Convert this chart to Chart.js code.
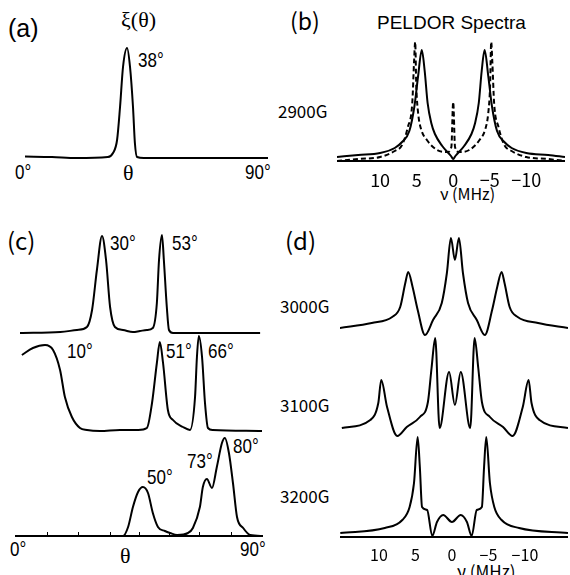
<!DOCTYPE html>
<html>
<head>
<meta charset="utf-8">
<script src="https://cdn.jsdelivr.net/npm/chart.js@4.4.1/dist/chart.umd.min.js"></script>
<style>
  html, body { margin: 0; padding: 0; background: #fff; }
  #fig { position: relative; width: 570px; height: 575px; overflow: hidden; background: #fff; }
  #fig canvas { position: absolute; }
  .t { position: absolute; line-height: 1; white-space: nowrap; color: #000;
       font-family: "Liberation Sans", Arial, sans-serif; }
  .g { font-family: "Noto Sans CJK JP", sans-serif; }
  .s { font-family: "Liberation Serif", "Times New Roman", serif; }
  .deg { font-size: 17px; transform: scaleY(1.15); transform-origin: 0 100%; }
</style>
</head>
<body>
<div id="fig">
  <!-- panel a -->
  <div class="t" style="left:8px;top:16px;font-size:25px;">(a)</div>
  <div class="t s" style="left:121px;top:9px;font-size:22px;">ξ(θ)</div>
  <div class="t deg" style="left:138px;top:53px;">38°</div>
  <div class="t deg" style="left:15px;top:165px;">0°</div>
  <div class="t s" style="left:123px;top:162px;font-size:22px;">θ</div>
  <div class="t deg" style="left:245px;top:165px;">90°</div>

  <!-- panel b -->
  <div class="t g" style="left:290px;top:9px;font-size:23px;">(b)</div>
  <div class="t" style="left:377px;top:13px;font-size:19px;">PELDOR Spectra</div>
  <div class="t g" style="left:278px;top:102px;font-size:17px;">2900G</div>
  <div class="t g" style="left:440px;top:185px;font-size:16px;">ν (MHz)</div>

  <!-- panel c -->
  <div class="t g" style="left:7px;top:228px;font-size:24px;">(c)</div>
  <div class="t deg" style="left:110px;top:236px;">30°</div>
  <div class="t deg" style="left:172px;top:236px;">53°</div>
  <div class="t deg" style="left:67px;top:344px;">10°</div>
  <div class="t deg" style="left:166px;top:344px;">51°</div>
  <div class="t deg" style="left:208px;top:344px;">66°</div>
  <div class="t deg" style="left:147px;top:470px;">50°</div>
  <div class="t deg" style="left:187px;top:454px;">73°</div>
  <div class="t deg" style="left:233px;top:439px;">80°</div>
  <div class="t deg" style="left:10px;top:542px;">0°</div>
  <div class="t s" style="left:120px;top:545px;font-size:22px;">θ</div>
  <div class="t deg" style="left:240px;top:542px;">90°</div>

  <!-- panel d -->
  <div class="t g" style="left:285px;top:228px;font-size:24px;">(d)</div>
  <div class="t g" style="left:280px;top:297px;font-size:17px;">3000G</div>
  <div class="t g" style="left:280px;top:396px;font-size:17px;">3100G</div>
  <div class="t g" style="left:280px;top:487px;font-size:17px;">3200G</div>
  <div class="t g" style="left:457px;top:562px;font-size:17px;">ν (MHz)</div>
</div>

<script>
// (a) orientation distribution xi(theta), theta in degrees
var thetaA = [0, 10, 19, 30.7, 32.6, 34.1, 35.2, 36.3, 37.8, 38.9, 40.0, 40.7, 41.5, 44, 60, 90];
var xiA    = [1.5, 1, 0, 1, 5, 18, 51, 91, 110, 91, 51, 15, 1, 0, 0, 0];

// (b) PELDOR spectrum at 2900G, nu in MHz
var nuSolidB = [15.9, 13, 10, 8, 7, 6, 5.3, 4.8, 4.3, 3.9, 3.5, 3.0, 2.5, 1.5, 0.3, 0,
                -0.3, -1.5, -2.5, -3.0, -3.5, -3.9, -4.3, -4.8, -5.3, -6, -7, -8, -10, -13, -15.3];
var solidB   = [4, 6, 8, 13, 19, 30, 55, 85, 111, 90, 58, 38, 27, 15, 5, 2,
                5, 15, 27, 38, 58, 90, 111, 85, 55, 30, 19, 13, 8, 6, 4];
var nuDashB  = [15.9, 13, 10, 8, 7, 6.2, 5.6, 5.35, 5.2, 5.05, 4.8, 4.4, 3.6, 2.2, 0.8, 0.25, 0,
                -0.25, -0.8, -2.2, -3.6, -4.4, -4.8, -5.05, -5.2, -5.35, -5.6, -6.2, -7, -8, -10, -13, -15.3];
var dashB    = [0, 2, 4, 10, 16, 34, 58, 100, 119, 75, 48, 32, 21, 11, 9, 14, 59,
                14, 9, 11, 21, 32, 48, 75, 119, 100, 58, 34, 16, 10, 4, 2, 0];

// (c) three orientation distributions
var thetaC1 = [0, 15, 21.2, 24.9, 26.8, 28.6, 30.5, 32.0, 33.5, 35.3, 38.3, 42.0, 44.6, 47.2, 49.4,
               50.9, 51.7, 52.8, 53.5, 54.6, 55.4, 56.9, 89.3];
var xiC1    = [0, 1, 3, 6, 23, 63, 97, 73, 26, 6, 3, 1, 2, 3, 5,
               30, 73, 98, 73, 26, 3, 0, 0];
var thetaC2 = [0.7, 4.8, 9.3, 12.3, 14.9, 16.7, 19.3, 22.3, 24.9, 29.7, 37.2, 44, 47.2, 49.1, 50.9,
               52.0, 53.2, 55.0, 56.9, 60.6, 63.2, 65.1, 65.8, 66.5, 67.7, 68.8, 69.9, 71.7, 90];
var xiC2    = [77, 84, 87, 82, 62, 35, 15, 4, 2, 1, 2, 2, 4, 29, 69,
               90, 69, 22, 12, 5, 2, 35, 75, 96, 75, 29, 4, 2, 1];
var thetaC3 = [-1.9, 20, 38.3, 40.2, 42.0, 43.9, 45.7, 47.6, 49.4, 51.3, 53.9, 55.8, 58.4, 62.5,
               64.3, 66.9, 68.0, 69.5, 71.4, 73.2, 75.1, 76.2, 77.7, 79.2, 80.7, 83.0, 85.6, 90.4];
var xiC3    = [0, 0, 0, 9, 29, 44, 49, 43, 23, 9, 5, 3, 1, 3,
               8, 29, 49, 57, 48, 69, 93, 98, 83, 53, 19, 8, 1, 0];
var tickC   = [-1.9, 10.4, 21.6, 33.5, 44.6, 55.7, 66.9, 78.8, 90.4];

// (d) PELDOR spectra at 3000G, 3100G, 3200G
var nuD1 = [15.8, 11.4, 8.6, 7.5, 6.8, 6.4, 5.8, 5.1, 4.1, 3.0, 1.8, 1.1, 0.55, 0,
            -0.55, -1.1, -1.8, -3.0, -4.1, -5.1, -5.8, -6.4, -6.8, -7.5, -8.6, -11.4, -15.5];
var d1   = [0, 5, 11, 21, 45, 56, 41, 18, -7, 8, 25, 55, 90, 68,
            90, 55, 25, 8, -7, 18, 41, 56, 45, 21, 11, 5, 0];
var nuD2 = [15.5, 11.6, 10.5, 10.1, 9.3, 7.9, 6.6, 4.8, 3.7, 3.2, 2.7, 2.1, 0.8, 0,
            -0.8, -2.1, -2.7, -3.2, -3.7, -4.8, -6.6, -7.9, -9.3, -10.1, -10.5, -11.6, -15.5];
var d2   = [0, 8, 25, 48, 21, -8, 1, 11, 26, 60, 90, 0, 56, 23,
            56, 0, 90, 60, 26, 11, 1, -8, 21, 48, 25, 8, 0];
var nuD3 = [15.3, 9.2, 6.8, 5.8, 5.2, 4.7, 4.4, 4.1, 3.4, 2.7, 2.05, 1.2, 0,
            -1.2, -2.05, -2.7, -3.4, -4.1, -4.4, -4.7, -5.2, -5.8, -6.8, -9.2, -15.9];
var d3   = [4, 9, 17, 30, 54, 100, 70, 30, 27, 1, 15, 22, 15,
            22, 15, 1, 27, 30, 70, 100, 54, 30, 17, 9, 4];
var tickNu = [10, 5, 0, -5, -10];

var fig = document.getElementById('fig');

function pts(xs, ys) {
  return xs.map(function (v, i) { return { x: v, y: ys[i] }; });
}

function line(xs, ys, dash) {
  return {
    data: pts(xs, ys),
    borderColor: '#000',
    borderWidth: 2,
    borderDash: dash || [],
    pointRadius: 0,
    fill: false,
    clip: false,
    cubicInterpolationMode: 'monotone'
  };
}

function nuLabel(v) {
  return v < 0 ? '\u2212' + (-v) : String(v);
}

function nuAxis(vals, size) {
  return {
    height: 40,
    opts: {
      display: true,
      border: { display: true, color: '#000', width: 2 },
      grid: { display: false, drawTicks: false },
      afterBuildTicks: function (s) { s.ticks = vals.map(function (v) { return { value: v }; }); },
      afterFit: function (s) { s.height = 40; },
      ticks: { padding: 8, color: '#000', autoSkip: false, maxRotation: 0,
               font: { family: '"Noto Sans CJK JP", sans-serif', size: size },
               callback: nuLabel }
    }
  };
}

// one chart per trace, canvas placed so its baseline (value 0) sits at `base`
function trace(left, width, base, xMin, xMax, yMin, yMax, reverse, sets, axis) {
  var axisH = axis ? axis.height : 0;
  var cv = document.createElement('canvas');
  cv.width = width;
  cv.height = (yMax - yMin) + axisH;
  cv.style.left = left + 'px';
  cv.style.top = (base - yMax) + 'px';
  fig.appendChild(cv);

  var x = { type: 'linear', min: xMin, max: xMax, reverse: reverse, display: false };
  if (axis) x = Object.assign(x, axis.opts);

  new Chart(cv, {
    type: 'line',
    data: { datasets: sets },
    options: {
      responsive: false,
      animation: false,
      events: [],
      layout: { padding: 0 },
      plugins: { legend: { display: false }, tooltip: { enabled: false } },
      scales: {
        x: x,
        y: { type: 'linear', min: yMin, max: yMax, display: false }
      }
    }
  });
}

// (a)
trace(25, 243, 158, 0, 90, -3, 115, false, [line(thetaA, xiA)]);

// (b)
trace(337, 228, 161, -15.3, 15.9, 0, 125, true,
      [line(nuDashB, dashB, [5, 3]), line(nuSolidB, solidB)],
      nuAxis(tickNu, 18));

// (c)
trace(20, 242, 333, 0, 90, -3, 100, false, [line(thetaC1, xiC1)]);
trace(20, 242, 432, 0, 90, -3, 100, false, [line(thetaC2, xiC2)]);
trace(15, 248, 536, -1.86, 90.37, 0, 100, false, [line(thetaC3, xiC3)], {
  height: 10,
  opts: {
    display: true,
    border: { display: true, color: '#000', width: 2 },
    grid: { display: true, drawOnChartArea: false, drawTicks: true, tickLength: -4, color: '#000', lineWidth: 1 },
    ticks: { display: false },
    afterBuildTicks: function (s) { s.ticks = tickC.map(function (v) { return { value: v }; }); },
    afterFit: function (s) { s.height = 10; }
  }
});

// (d)
trace(340, 228, 328, -15.5, 15.75, -12, 95, true, [line(nuD1, d1)]);
trace(340, 228, 428, -15.5, 15.75, -12, 95, true, [line(nuD2, d2)]);
trace(340, 228, 537, -15.9, 15.34, 0, 105, true, [line(nuD3, d3)], nuAxis(tickNu, 16));
</script>
</body>
</html>
